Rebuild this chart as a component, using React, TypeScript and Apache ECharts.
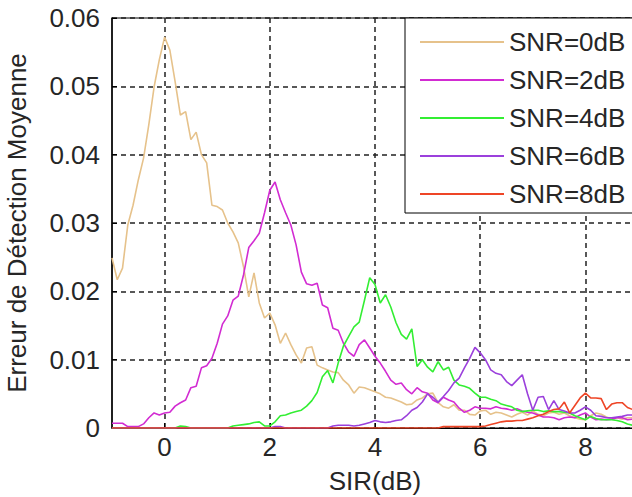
import React, { useEffect, useRef } from "react";
import * as echarts from "echarts";

const sir = [
  -1, -0.9, -0.8, -0.7, -0.6, -0.5, -0.4, -0.3, -0.2, -0.1,
  0, 0.1, 0.2, 0.3, 0.4, 0.5, 0.6, 0.7, 0.8, 0.9,
  1, 1.1, 1.2, 1.3, 1.4, 1.5, 1.6, 1.7, 1.8, 1.9,
  2, 2.1, 2.2, 2.3, 2.4, 2.5, 2.6, 2.7, 2.8, 2.9,
  3, 3.1, 3.2, 3.3, 3.4, 3.5, 3.6, 3.7, 3.8, 3.9,
  4, 4.1, 4.2, 4.3, 4.4, 4.5, 4.6, 4.7, 4.8, 4.9,
  5, 5.1, 5.2, 5.3, 5.4, 5.5, 5.6, 5.7, 5.8, 5.9,
  6, 6.1, 6.2, 6.3, 6.4, 6.5, 6.6, 6.7, 6.8, 6.9,
  7, 7.1, 7.2, 7.3, 7.4, 7.5, 7.6, 7.7, 7.8, 7.9,
  8, 8.1, 8.2, 8.3, 8.4, 8.5, 8.6, 8.7, 8.8, 8.9,
  9,
];

const snr0 = [
  0.0249, 0.0217, 0.0234, 0.0297, 0.0326, 0.0363, 0.0395, 0.0444, 0.0499, 0.0539,
  0.0572, 0.0553, 0.0507, 0.0458, 0.0463, 0.0422, 0.0433, 0.04, 0.0388, 0.0326,
  0.0324, 0.0319, 0.03, 0.0287, 0.0271, 0.0236, 0.0192, 0.0227, 0.0183, 0.0161,
  0.0168, 0.0151, 0.0124, 0.0139, 0.0122, 0.0107, 0.0095, 0.0117, 0.0119, 0.0092,
  0.0088, 0.0085, 0.0082, 0.0081, 0.007, 0.0063, 0.0051, 0.006, 0.0059, 0.0056,
  0.0053, 0.005, 0.0045, 0.0044, 0.0041, 0.0038, 0.0034, 0.0035, 0.0041, 0.0044,
  0.005, 0.0051, 0.0037, 0.0031, 0.0029, 0.0034, 0.0026, 0.0026, 0.002, 0.0019,
  0.0025, 0.0026, 0.002, 0.0023, 0.0022, 0.0019, 0.0016, 0.002, 0.0023, 0.0019,
  0.0025, 0.002, 0.0018, 0.0022, 0.0023, 0.002, 0.0022, 0.0018, 0.0015, 0.0013,
  0.0012, 0.0018, 0.0022, 0.002, 0.0016, 0.0013, 0.0015, 0.0013, 0.0015, 0.0015,
  0.0014,
];

const snr2 = [
  0.0007, 0.0007, 0.0007, 0.0002, 0.0002, 0.0002, 0.0006, 0.0015, 0.0022, 0.0019,
  0.0022, 0.0023, 0.0032, 0.0037, 0.0041, 0.0059, 0.0061, 0.0088, 0.0091, 0.0102,
  0.0124, 0.0152, 0.0164, 0.0187, 0.0193, 0.0224, 0.0264, 0.0274, 0.0285, 0.0315,
  0.0348, 0.036, 0.0334, 0.0315, 0.0297, 0.0268, 0.0228, 0.0211, 0.0209, 0.0212,
  0.018, 0.0176, 0.0146, 0.0143, 0.0124, 0.0111, 0.0105, 0.0122, 0.0129, 0.0117,
  0.0105, 0.0095, 0.0083, 0.007, 0.0064, 0.0066, 0.0056, 0.005, 0.0059, 0.0053,
  0.0051, 0.0041, 0.0037, 0.0045, 0.0041, 0.0038, 0.0029, 0.0023, 0.0026, 0.0031,
  0.0029, 0.0029, 0.0028, 0.0031, 0.0029, 0.0028, 0.0026, 0.0028, 0.0025, 0.0023,
  0.0022, 0.0019, 0.0016, 0.0016, 0.0015, 0.0012, 0.0015, 0.0016, 0.0015, 0.0019,
  0.0022, 0.0016, 0.0012, 0.0013, 0.0012, 0.0013, 0.0015, 0.0015, 0.0012, 0.0013,
  0.0013,
];

const snr4 = [
  0, 0, 0, 0, 0, 0, 0, 0, 0, 0,
  0, 0, 0, 0.0003, 0.0002, 0, 0, 0, 0, 0,
  0, 0, 0, 0.0003, 0.0004, 0.0005, 0.0006, 0.0008, 0.0009, 0.0003,
  0.0003, 0.0009, 0.0018, 0.0019, 0.0022, 0.0024, 0.0026, 0.0032, 0.004, 0.0052,
  0.0075, 0.0084, 0.0066, 0.0095, 0.012, 0.0134, 0.0148, 0.0155, 0.0187, 0.022,
  0.021, 0.0183, 0.0195, 0.0177, 0.0154, 0.0137, 0.013, 0.0145, 0.009, 0.01,
  0.0089, 0.0082, 0.0097, 0.0085, 0.0089, 0.007, 0.0063, 0.0061, 0.0058, 0.0051,
  0.0045, 0.0045, 0.0042, 0.004, 0.0035, 0.0033, 0.0031, 0.0026, 0.0024, 0.0025,
  0.0026, 0.0026, 0.0024, 0.0025, 0.0024, 0.0024, 0.0023, 0.0022, 0.0018, 0.0015,
  0.0012, 0.0017, 0.0014, 0.0012, 0.0012, 0.0012, 0.0011, 0.0009, 0.0006, 0.0004,
  0.0004,
];

const snr6 = [
  0, 0, 0, 0, 0, 0, 0, 0, 0, 0,
  0, 0, 0, 0, 0, 0, 0, 0, 0, 0,
  0, 0, 0, 0, 0, 0, 0, 0, 0, 0,
  0, 0.0002, 0.0002, 0, 0, 0, 0, 0, 0, 0,
  0, 0, 0.0003, 0.0004, 0.0004, 0.0004, 0.0003, 0.0004, 0.0006, 0.0008,
  0.0011, 0.0009, 0.0008, 0.0009, 0.0011, 0.0012, 0.0018, 0.0026, 0.003, 0.0038,
  0.005, 0.0045, 0.0038, 0.0046, 0.0055, 0.0066, 0.0073, 0.0088, 0.0102, 0.0118,
  0.011, 0.01, 0.0085, 0.008, 0.0078, 0.0068, 0.0062, 0.007, 0.0078, 0.005,
  0.0026, 0.0045, 0.0046, 0.0027, 0.004, 0.0027, 0.0025, 0.0022, 0.0022, 0.0026,
  0.0031, 0.0026, 0.0018, 0.0017, 0.0015, 0.0015, 0.0016, 0.0017, 0.0019, 0.0019,
  0.0019,
];

const snr8 = [
  0, 0, 0, 0, 0, 0, 0, 0, 0, 0,
  0, 0, 0, 0, 0, 0, 0, 0, 0, 0,
  0, 0, 0, 0, 0, 0, 0, 0, 0, 0,
  0, 0, 0, 0, 0, 0, 0, 0, 0, 0,
  0, 0, 0, 0, 0, 0, 0, 0, 0, 0,
  0, 0, 0, 0, 0, 0, 0, 0, 0, 0,
  0, 0, 0, 0.0002, 0.0002, 0.0002, 0.0002, 0.0002, 0.0002, 0.0002,
  0.0002, 0.0003, 0.0005, 0.0007, 0.0009, 0.001, 0.001, 0.0011, 0.0011, 0.0013,
  0.0015, 0.0018, 0.002, 0.0024, 0.0027, 0.0028, 0.0038, 0.0022, 0.0033, 0.0044,
  0.0051, 0.0044, 0.0044, 0.0043, 0.0027, 0.0035, 0.0037, 0.0037, 0.003, 0.0027,
  0.0027,
];

const seriesNames = ["SNR=0dB", "SNR=2dB", "SNR=4dB", "SNR=6dB", "SNR=8dB"];
const seriesColors = ["#E6C28B", "#D22CD2", "#33EE33", "#9B40DC", "#EE4526"];
const seriesValues = [snr0, snr2, snr4, snr6, snr8];
const xTicks = [0, 2, 4, 6, 8];

const FONT = "'Liberation Sans', Arial, sans-serif";
const TEXT = "#262626";
const FS = 26;

export default function App() {
  const ref = useRef<HTMLDivElement>(null);

  useEffect(() => {
    if (!ref.current) return;
    const chart = echarts.init(ref.current, null, { renderer: "svg" });
    const option = {
      animation: false,
      backgroundColor: "#ffffff",
      grid: {
        left: 112,
        top: 18,
        width: 526,
        height: 410,
        show: true,
        containLabel: false,
        outerBoundsMode: "none",
        borderColor: "#000",
        borderWidth: 1,
        backgroundColor: "transparent",
      },
      legend: {
        orient: "vertical",
        left: 405,
        top: 18,
        padding: [11, 30, 6, 15],
        icon: "rect",
        itemWidth: 84,
        itemHeight: 2,
        itemGap: 12,
        backgroundColor: "#ffffff",
        borderColor: "#000",
        borderWidth: 1,
        data: seriesNames,
        textStyle: { fontSize: FS, fontFamily: FONT, color: TEXT, lineHeight: 24 },
      },
      xAxis: {
        type: "value",
        min: -1,
        max: 9,
        name: "SIR(dB)",
        nameLocation: "middle",
        nameGap: 40,
        nameTextStyle: { fontSize: FS, fontFamily: FONT, color: TEXT },
        axisLine: { show: true, onZero: false, lineStyle: { color: "#000", width: 1 } },
        axisTick: { show: true, inside: true, length: 5, customValues: xTicks, lineStyle: { color: "#000" } },
        axisLabel: { customValues: xTicks, margin: 6, fontSize: FS, fontFamily: FONT, color: TEXT },
        splitLine: { show: true, lineStyle: { type: [5, 4], color: "#222", width: 1.5 } },
      },
      yAxis: {
        type: "value",
        min: 0,
        max: 0.06,
        interval: 0.01,
        name: "Erreur de Détection Moyenne",
        nameLocation: "middle",
        nameGap: 82,
        nameTextStyle: { fontSize: FS, fontFamily: FONT, color: TEXT },
        axisLine: { show: true, onZero: false, lineStyle: { color: "#000", width: 1.5 } },
        axisTick: { show: true, inside: true, length: 5, lineStyle: { color: "#000" } },
        axisLabel: {
          margin: 12,
          fontSize: FS,
          fontFamily: FONT,
          color: TEXT,
          formatter: (v: number) => (v === 0 ? "0" : v.toFixed(2)),
        },
        splitLine: { show: true, lineStyle: { type: [5, 4], color: "#222", width: 1.5 } },
      },
      series: seriesNames.map((name, k) => ({
        name,
        type: "line",
        symbol: "none",
        showSymbol: false,
        color: seriesColors[k],
        lineStyle: { width: 1.6, color: seriesColors[k] },
        data: sir.map((x, i) => [x, seriesValues[k][i]]),
      })),
    };
    chart.setOption(option as any);
    return () => chart.dispose();
  }, []);

  return (
    <div
      ref={ref}
      style={{ position: "absolute", left: 0, top: 0, width: 632, height: 497, background: "#fff" }}
    />
  );
}
